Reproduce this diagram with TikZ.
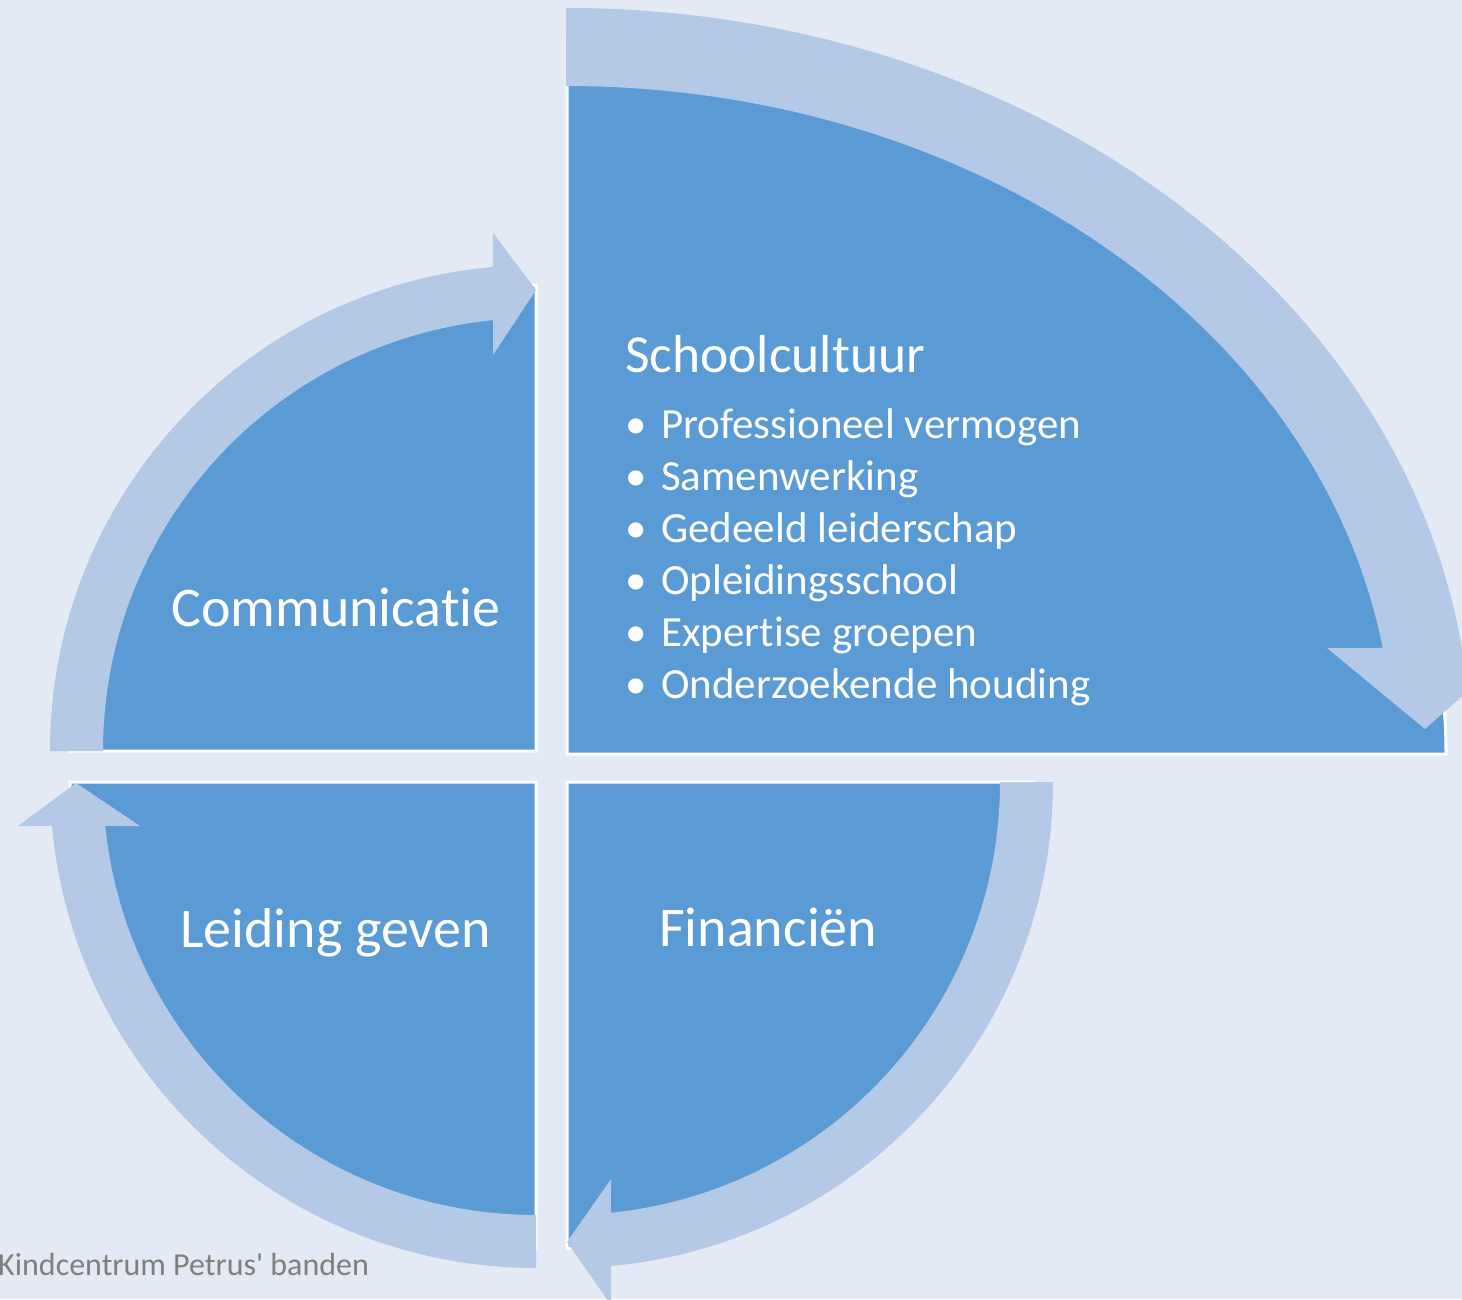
\documentclass[tikz,border=0pt]{standalone}
\usepackage{fontspec}
\setmainfont{Carlito}[Ligatures=CommonOff]
\usetikzlibrary{calc}
\definecolor{bgc}{HTML}{E3EAF5}
\definecolor{piec}{HTML}{5B9BD5}
\definecolor{bandc}{HTML}{B4C9E5}
\definecolor{capc}{HTML}{7F7F7F}
\tikzset{
  piefill/.style={fill=piec, draw=white, line width=3pt},
  bandfill/.style={fill=bandc},
  biglbl/.style={text=white, inner sep=0pt, anchor=base west, font=\fontsize{56}{67}\selectfont},
  titlelbl/.style={text=white, inner sep=0pt, anchor=base west, font=\fontsize{53.5}{64}\selectfont},
  itemlbl/.style={text=white, inner sep=0pt, anchor=base west, font=\fontsize{43}{52}\selectfont},
  bulletlbl/.style={text=white, inner sep=0pt, anchor=base, font=\fontsize{43}{52}\selectfont},
  caplbl/.style={text=capc, inner sep=0pt, anchor=base west, font=\fontsize{32}{38}\selectfont}
}
\begin{document}
\begin{tikzpicture}[x=1pt, y=-1pt]
\useasboundingbox (0,0) rectangle (1462,1299);
\fill[bgc] (0,0) rectangle (1462,1299);
\clip (0,0) rectangle (1462,1299);

% centres
\coordinate (C1) at (566,753);
\coordinate (P1) at (567,754);
\coordinate (C2) at (536,751);
\coordinate (C3) at (536,782);
\coordinate (C4) at (567,782);

% ---- quadrant 1 (Schoolcultuur)
\path[piefill] (P1) -- ++(270:879 and 714) arc[start angle=270, end angle=360, x radius=879, y radius=714] -- cycle;
\path[bandfill] ($(C1)+(270:905 and 745)$) arc[start angle=270, end angle=351.9, x radius=905, y radius=745]
  -- (1517,648) -- (1425,729) -- (1327,648)
  -- ($(C1)+(350.94:827 and 667)$) arc[start angle=350.94, end angle=270, x radius=827, y radius=667] -- cycle;

% ---- quadrant 2 (Communicatie)
\path[piefill] (C2) -- ++(180:466) arc[start angle=180, end angle=270, radius=466] -- cycle;
\path[bandfill] ($(C2)+(180:486)$) arc[start angle=180, end angle=264.92, radius=486]
  -- (493,233) -- (536,290) -- (493,355)
  -- ($(C2)+(264.30:433)$) arc[start angle=264.30, end angle=180, radius=433] -- cycle;

% ---- quadrant 3 (Leiding geven)
\path[piefill] (C3) -- ++(90:466) arc[start angle=90, end angle=180, radius=466] -- cycle;
\path[bandfill] ($(C3)+(90:486)$) arc[start angle=90, end angle=174.81, radius=486]
  -- (18,826) -- (76,783) -- (140,826)
  -- ($(C3)+(174.17:433)$) arc[start angle=174.17, end angle=90, radius=433] -- cycle;

% ---- quadrant 4 (Financien)
\path[piefill] (C4) -- ++(0:466) arc[start angle=0, end angle=90, radius=466] -- cycle;
\path[bandfill] ($(C4)+(0:486)$) arc[start angle=0, end angle=84.81, radius=486]
  -- (611,1305) -- (567,1242) -- (611,1179)
  -- ($(C4)+(84.17:433)$) arc[start angle=84.17, end angle=0, radius=433] -- cycle;

% ---- texts
\node[titlelbl] (title) at (625,372) {Schoolcultuur};
\node[bulletlbl] (b1) at (636,438) {•};
\node[bulletlbl] (b2) at (636,490) {•};
\node[bulletlbl] (b3) at (636,542) {•};
\node[bulletlbl] (b4) at (636,594) {•};
\node[bulletlbl] (b5) at (636,646) {•};
\node[bulletlbl] (b6) at (636,698) {•};
\node[itemlbl] (i1) at (661,438) {Professioneel vermogen};
\node[itemlbl] (i2) at (661,490) {Samenwerking};
\node[itemlbl] (i3) at (661,542) {Gedeeld leiderschap};
\node[itemlbl] (i4) at (661,594) {Opleidingsschool};
\node[itemlbl] (i5) at (661,646) {Expertise groepen};
\node[itemlbl] (i6) at (661,698) {Onderzoekende houding};

\node[biglbl] (comm) at (171,626) {Communicatie};
\node[biglbl] (lead) at (180,947) {Leiding geven};
\node[biglbl] (fin) at (659,946) {Financiën};

\node[caplbl] (cap) at (-2,1275) {Kindcentrum Petrus\textquotesingle{} banden};
\end{tikzpicture}
\end{document}
